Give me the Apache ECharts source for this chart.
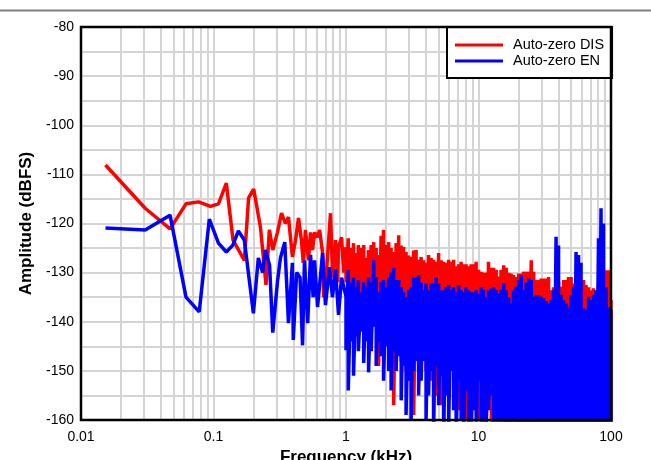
<!DOCTYPE html>
<html><head><meta charset="utf-8">
<script src="https://cdn.jsdelivr.net/npm/echarts@6/dist/echarts.min.js"></script>
<style>html,body{margin:0;padding:0;background:#fff}#c{width:651px;height:460px}</style>
</head><body><div id="c"></div>
<script>
const seriesNames = ['Auto-zero DIS', 'Auto-zero EN'];
const xMinorGrid = [0.02,0.03,0.04,0.05,0.06,0.07,0.08,0.09,
  0.2,0.3,0.4,0.5,0.6,0.7,0.8,0.9,
  2,3,4,5,6,7,8,9,
  20,30,40,50,60,70,80,90];

// Low-frequency FFT bins (kHz, dBFS)
const disLowFreq = [0.0153,0.0305,0.047,0.062,0.077,0.095,0.109,0.125,0.1405,0.171,0.184,0.201,0.226,0.249,0.264,0.280,
  0.304,0.326,0.349,0.368,0.394,0.416,0.438,0.461,0.476,0.494,0.521,0.540,0.559,0.579,0.610,0.632,0.666,0.678,0.714,0.764,0.792,0.834,0.864,0.878,0.926,0.960];
const disLowVal = [-108.1,-116.9,-121.1,-116.0,-115.6,-116.5,-116.0,-111.8,-123.4,-127.5,-114.8,-113.0,-120.7,-132.5,-121.3,-125.4,
  -121.8,-117.9,-120.0,-118.7,-126.8,-123.4,-118.9,-123.4,-128.0,-121.3,-127.5,-121.8,-125.4,-121.8,-122.8,-121.3,-126.0,-135.0,-129.5,-117.9,-131.0,-123.4,-132.0,-124.8,-122.8,-130.0];
const enLowFreq = [0.0153,0.0305,0.047,0.062,0.078,0.093,0.109,0.125,0.14,0.154,0.171,0.2,0.218,0.235,0.246,0.265,0.28,
  0.304,0.32,0.345,0.368,0.394,0.40,0.424,0.45,0.47,0.486,0.514,0.54,0.565,0.579,0.61,0.666,0.70,0.75,0.79,0.834,0.878,0.926];
const enLowVal = [-120.9,-121.3,-118.3,-135.0,-138.0,-119.1,-124.0,-125.8,-124.4,-121.5,-123.4,-138.3,-127.0,-130.0,-125.4,-128.5,-142.2,
  -131.8,-127.0,-123.8,-140.3,-128.0,-143.7,-130.0,-131.0,-144.8,-127.5,-140.3,-126.4,-135.0,-127.5,-137.0,-126.0,-136.6,-128.9,-135.0,-129.4,-138.6,-131.0];

// Dense part above 1 kHz: frequency, local peak and local trough of each trace
const denseFreq = [1.00,1.04,1.09,1.14,1.19,1.24,1.30,1.36,1.42,1.48,
  1.55,1.62,1.69,1.76,1.84,1.92,2.01,2.10,2.19,2.29,
  2.39,2.50,2.61,2.72,2.84,2.97,3.10,3.24,3.38,3.53,
  3.69,3.85,4.02,4.20,4.39,4.58,4.79,5.00,5.22,5.45,
  5.70,5.95,6.21,6.49,6.78,7.08,7.39,7.72,8.06,8.42,
  8.80,9.19,9.60,10.0,10.5,10.9,11.4,11.9,12.5,13.0,
  13.6,14.2,14.8,15.5,16.2,16.9,17.6,18.4,19.2,20.1,
  21.0,21.9,22.9,23.9,25.0,26.1,27.2,28.4,29.7,31.0,
  32.4,33.8,35.3,36.9,38.5,40.2,42.0,43.9,45.8,47.8,
  50.0,52.2,54.5,56.9,59.4,62.1,64.8,67.7,70.7,73.8,
  77.1,80.5,84.1,87.8,91.7,95.8,100];
const disPeak = [-124.8,-123,-125,-124,-126,-124.4,-125,-124.4,-127,-125.4,
  -124.4,-123.8,-125,-126.4,-122.5,-121.3,-124.4,-123.8,-125,-125.8,
  -124,-122.4,-124.5,-124.8,-125.8,-126.5,-126.8,-125.5,-125.4,-127.4,
  -126.8,-127.5,-128,-126.4,-127,-127.4,-127.8,-126,-127.5,-127.8,
  -128,-127.4,-127.8,-127.4,-128.7,-128.3,-127.8,-128.3,-128.3,-128.7,
  -128.3,-128.3,-127.8,-129.4,-129.8,-130,-130,-127.8,-129,-129,
  -129.4,-130.8,-129.4,-128.5,-129,-130,-130.2,-130.5,-130.9,-130.2,
  -130.2,-129.8,-129.8,-129.8,-127.5,-129.8,-131.5,-131.5,-131.2,-131.2,
  -131.2,-130.9,-133.6,-133,-132.2,-131.9,-132.9,-131.5,-131.5,-130.9,
  -130.9,-132.2,-133.6,-133,-131.5,-131.5,-132.5,-133,-133.6,-133.2,
  -133.6,-132.2,-130.9,-129.2,-129.5,-129.5,-135.6];
const disTrough = [-132,-138,-134,-140,-142,-136,-138,-135,-140,-137,
  -138,-140,-136,-149,-138,-137,-140,-144,-139,-157,
  -145,-140,-148,-143,-150,-142,-146,-159,-147,-143,
  -140,-146,-150,-145,-152,-147,-155,-149,-157,-150,
  -146,-152,-148,-156,-150,-158,-149,-153,-160,-151,
  -155,-150,-158,-160,-160,-154,-162,-156,-165,-160,
  -158,-165,-160,-168,-162,-170,-165,-160,-170,-165,
  -170,-165,-170,-168,-170,-170,-166,-170,-170,-168,
  -170,-170,-168,-170,-170,-170,-170,-166,-170,-170,
  -170,-170,-170,-168,-170,-170,-170,-170,-170,-170,
  -170,-170,-170,-170,-170,-170,-170];
const enPeak = [-134.9,-129.5,-132,-131,-133,-131.5,-134,-132,-133,-131,
  -132,-127.5,-131,-134,-132,-131.5,-133,-131,-130,-129,
  -131.5,-131.5,-133,-134,-135,-133.5,-133,-131,-131,-130.5,
  -132,-133.6,-132.2,-133.6,-132.2,-132.2,-131,-132.2,-133.6,-133.6,
  -133,-132.5,-133.6,-133,-134,-132.5,-133.6,-134,-133,-133.6,
  -134,-134,-133.6,-134.3,-133,-133.5,-135,-133.6,-133.3,-133,
  -133.6,-134.3,-133.5,-132.2,-133.6,-135,-136.3,-133.6,-132.9,-131.5,
  -130.5,-133.6,-132,-131.2,-131.5,-134.9,-134.6,-134.6,-134.9,-135.2,
  -135.8,-136.3,-135.6,-133.6,-122.7,-124.5,-134.5,-135.6,-136.3,-137,
  -134.6,-132.9,-125.8,-126.4,-128,-137.3,-137.6,-134.9,-135.6,-134.6,
  -133.6,-123,-116.9,-120,-133,-137,-137.6];
const enTrough = [-145.8,-154,-144,-151,-143,-146,-142,-148.4,-144,-150.3,
  -146,-141,-149,-144,-147,-152,-145,-150,-154,-146,
  -150,-147,-156,-149,-159,-152,-160,-150,-148,-155,
  -152,-148,-160,-155,-150,-163,-149,-157,-151,-165,
  -155,-162,-150,-158,-165,-152,-160,-166,-154,-162,
  -165,-158,-168,-152,-170,-162,-166,-158,-155,-164,
  -168,-160,-170,-165,-172,-170,-166,-172,-170,-168,
  -170,-168,-172,-170,-165,-172,-170,-172,-168,-170,
  -170,-170,-170,-170,-170,-170,-170,-170,-170,-170,
  -170,-170,-170,-170,-170,-170,-170,-170,-170,-170,
  -170,-170,-170,-170,-170,-170,-170];

function buildTrace(lowF, lowV, peak, trough) {
  const d = lowF.map((f, i) => [f, lowV[i]]);
  denseFreq.forEach((f, i) => { d.push([f, peak[i]]); d.push([f, trough[i]]); });
  return d;
}

const FONT = "'Liberation Sans', Arial, sans-serif";
const GRID = { left: 81, top: 27, width: 530, height: 393 };
const gridColor = '#d4d4d4';

const chart = echarts.init(document.getElementById('c'), null, { renderer: 'canvas' });
chart.setOption({
  animation: false,
  backgroundColor: '#fff',
  textStyle: { fontFamily: FONT },
  grid: { left: GRID.left, top: GRID.top, width: GRID.width, height: GRID.height,
    containLabel: false, outerBoundsMode: 'none' },
  xAxis: {
    type: 'log', logBase: 10, min: 0.01, max: 100,
    name: 'Frequency (kHz)', nameLocation: 'middle', nameGap: 23,
    nameTextStyle: { fontFamily: FONT, fontWeight: 'bold', fontSize: 17, color: '#000' },
    axisLine: { show: false }, axisTick: { show: false },
    axisLabel: { fontFamily: FONT, fontSize: 14, color: '#000', margin: 10, showMinLabel: true, showMaxLabel: true },
    splitLine: { show: true, showMinLine: false, showMaxLine: false, lineStyle: { color: gridColor, width: 2 } }
  },
  yAxis: {
    type: 'value', min: -160, max: -80, interval: 5,
    name: 'Amplitude (dBFS)', nameLocation: 'middle', nameGap: 39,
    nameTextStyle: { fontFamily: FONT, fontWeight: 'bold', fontSize: 17, color: '#000' },
    axisLine: { show: false }, axisTick: { show: false },
    axisLabel: { fontFamily: FONT, fontSize: 14, color: '#000', margin: 7,
      formatter: v => (v % 10 === 0 ? String(v) : '') },
    splitLine: { show: true, showMinLine: false, showMaxLine: false, lineStyle: { color: gridColor, width: 2 } }
  },
  legend: {
    data: seriesNames, orient: 'vertical', left: 447, top: 27,
    icon: 'rect', itemWidth: 48, itemHeight: 3, itemGap: 0,
    padding: [10, 8, 9, 8],
    backgroundColor: '#fff', borderColor: '#000', borderWidth: 2, borderRadius: 0,
    textStyle: { fontFamily: FONT, fontSize: 14.5, lineHeight: 16, color: '#000', padding: [0, 0, 0, 5] }
  },
  graphic: [
    { type: 'line', z: 100, shape: { x1: 0, y1: 10.5, x2: 651, y2: 10.5 }, style: { stroke: '#808080', lineWidth: 2 } },
    { type: 'rect', z: 100, shape: { x: GRID.left, y: GRID.top, width: GRID.width, height: GRID.height },
      style: { fill: null, stroke: '#000', lineWidth: 2.5 } }
  ],
  series: [
    { name: '_minor', type: 'line', data: [], z: 1, silent: true,
      markLine: { z: 1, silent: true, symbol: ['none', 'none'], label: { show: false },
        lineStyle: { color: gridColor, width: 2, type: 'solid' },
        emphasis: { disabled: true },
        data: xMinorGrid.map(v => ({ xAxis: v })) } },
    { name: seriesNames[0], type: 'line', z: 2, clip: true, showSymbol: false, symbol: 'none',
      lineStyle: { color: '#ff0000', width: 3.5 }, itemStyle: { color: '#ff0000' },
      data: buildTrace(disLowFreq, disLowVal, disPeak, disTrough) },
    { name: seriesNames[1], type: 'line', z: 3, clip: true, showSymbol: false, symbol: 'none',
      lineStyle: { color: '#0000ff', width: 3.5 }, itemStyle: { color: '#0000ff' },
      data: buildTrace(enLowFreq, enLowVal, enPeak, enTrough) }
  ]
});
</script></body></html>
